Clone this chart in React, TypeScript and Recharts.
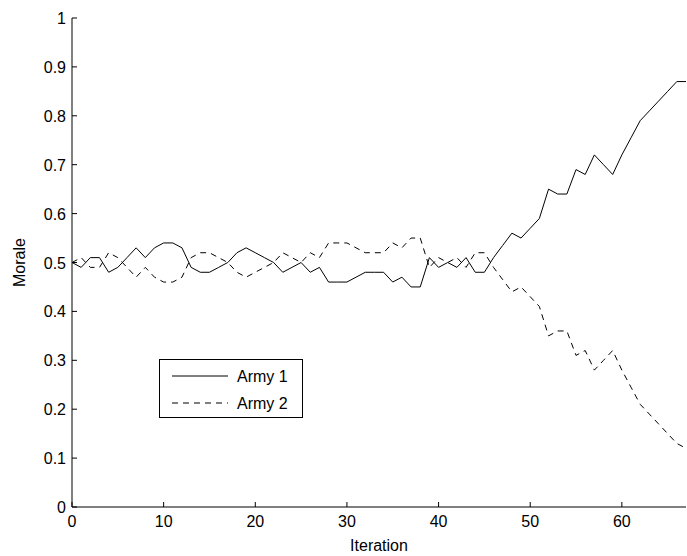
import React from 'react';
import { LineChart, Line, XAxis, YAxis, Legend } from 'recharts';

const iterations: number[] = [
  0, 1, 2, 3, 4, 5, 6, 7, 8, 9, 10, 11, 12, 13, 14, 15, 16, 17, 18, 19,
  20, 21, 22, 23, 24, 25, 26, 27, 28, 29, 30, 31, 32, 33, 34, 35, 36, 37, 38, 39,
  40, 41, 42, 43, 44, 45, 46, 47, 48, 49, 50, 51, 52, 53, 54, 55, 56, 57, 58, 59,
  60, 61, 62, 63, 64, 65, 66, 67,
];

const army1: number[] = [
  0.50, 0.49, 0.51, 0.51, 0.48, 0.49, 0.51, 0.53, 0.51, 0.53,
  0.54, 0.54, 0.53, 0.49, 0.48, 0.48, 0.49, 0.50, 0.52, 0.53,
  0.52, 0.51, 0.50, 0.48, 0.49, 0.50, 0.48, 0.49, 0.46, 0.46,
  0.46, 0.47, 0.48, 0.48, 0.48, 0.46, 0.47, 0.45, 0.45, 0.51,
  0.49, 0.50, 0.49, 0.51, 0.48, 0.48, 0.51, 0.535, 0.56, 0.55,
  0.57, 0.59, 0.65, 0.64, 0.64, 0.69, 0.68, 0.72, 0.70, 0.68,
  0.72, 0.755, 0.79, 0.81, 0.83, 0.85, 0.87, 0.87,
];

const army2: number[] = [
  0.50, 0.51, 0.49, 0.49, 0.52, 0.51, 0.49, 0.47, 0.49, 0.47,
  0.46, 0.46, 0.47, 0.51, 0.52, 0.52, 0.51, 0.50, 0.48, 0.47,
  0.48, 0.49, 0.50, 0.52, 0.51, 0.50, 0.52, 0.51, 0.54, 0.54,
  0.54, 0.53, 0.52, 0.52, 0.52, 0.54, 0.53, 0.55, 0.55, 0.49,
  0.51, 0.50, 0.51, 0.49, 0.52, 0.52, 0.49, 0.465, 0.44, 0.45,
  0.43, 0.41, 0.35, 0.36, 0.36, 0.31, 0.32, 0.28, 0.30, 0.32,
  0.28, 0.245, 0.21, 0.19, 0.17, 0.15, 0.13, 0.12,
];

const xTicks: number[] = [0, 10, 20, 30, 40, 50, 60];
const yTicks: number[] = [0, 0.1, 0.2, 0.3, 0.4, 0.5, 0.6, 0.7, 0.8, 0.9, 1];
const seriesNames: string[] = ['Army 1', 'Army 2'];

const data = iterations.map((it, i) => ({ it, a1: army1[i], a2: army2[i] }));

const FONT = '"Liberation Sans", Arial, Helvetica, sans-serif';
const FS = 16;
const TICK = 5;
const DASH = '6 5';

const BottomTick = (props: any) => {
  const { x, y, payload } = props;
  return (
    <g>
      <line x1={x} y1={y} x2={x} y2={y - TICK} stroke="#000" strokeWidth={1} />
      <text x={x} y={y + 20} textAnchor="middle" fontFamily={FONT} fontSize={FS} fill="#000">
        {String(payload.value)}
      </text>
    </g>
  );
};

const TopTick = (props: any) => {
  const { x, y } = props;
  return <line x1={x} y1={y} x2={x} y2={y + TICK} stroke="#000" strokeWidth={1} />;
};

const LeftTick = (props: any) => {
  const { x, y, payload } = props;
  return (
    <g>
      <line x1={x} y1={y} x2={x + TICK} y2={y} stroke="#000" strokeWidth={1} />
      <text x={x - 6} y={y + 6} textAnchor="end" fontFamily={FONT} fontSize={FS} fill="#000">
        {String(payload.value)}
      </text>
    </g>
  );
};

const RightTick = (props: any) => {
  const { x, y } = props;
  return <line x1={x} y1={y} x2={x - TICK} y2={y} stroke="#000" strokeWidth={1} />;
};

const XLabel = (props: any) => {
  const vb = props.viewBox || {};
  return (
    <text x={vb.x + vb.width / 2} y={vb.y + 44} textAnchor="middle" fontFamily={FONT} fontSize={FS} fill="#000">
      Iteration
    </text>
  );
};

const YLabel = (props: any) => {
  const vb = props.viewBox || {};
  const cx = vb.x + 19;
  const cy = vb.y + vb.height / 2;
  return (
    <text
      x={cx}
      y={cy}
      transform={`rotate(-90, ${cx}, ${cy})`}
      textAnchor="middle"
      dominantBaseline="central"
      fontFamily={FONT}
      fontSize={FS}
      fill="#000"
    >
      Morale
    </text>
  );
};

const LegendBox = (props: any) => {
  const payload = props.payload || [];
  return (
    <div
      style={{
        width: 144,
        height: 59,
        boxSizing: 'border-box',
        border: '1px solid #000',
        background: '#fff',
        position: 'relative',
      }}
    >
      <svg width={142} height={57} style={{ display: 'block' }}>
        {payload.map((p: any, i: number) => {
          const yy = 16 + i * 27;
          return (
            <g key={p.value}>
              <line
                x1={12}
                y1={yy}
                x2={68}
                y2={yy}
                stroke="#000"
                strokeWidth={1}
                strokeDasharray={p.payload && p.payload.strokeDasharray ? DASH : undefined}
              />
              <text x={77} y={yy + 6} fontFamily={FONT} fontSize={FS} fill="#000">
                {p.value}
              </text>
            </g>
          );
        })}
      </svg>
    </div>
  );
};

export default function App() {
  return (
    <div style={{ position: 'absolute', left: 0, top: 0, width: 687, height: 556, background: '#fff' }}>
      <LineChart
        width={687}
        height={556}
        data={data}
        margin={{ top: 18, right: 1, bottom: 0, left: 0 }}
      >
        <XAxis
          dataKey="it"
          type="number"
          domain={[0, 67]}
          ticks={xTicks}
          interval={0}
          allowDataOverflow
          height={49}
          tickSize={0}
          tickMargin={0}
          tickLine={false}
          axisLine={{ stroke: '#000', strokeWidth: 1 }}
          tick={<BottomTick />}
          label={<XLabel />}
        />
        <XAxis
          xAxisId="top"
          orientation="top"
          dataKey="it"
          type="number"
          domain={[0, 67]}
          ticks={xTicks}
          interval={0}
          allowDataOverflow
          height={0}
          tickSize={0}
          tickMargin={0}
          tickLine={false}
          axisLine={{ stroke: '#000', strokeWidth: 1 }}
          tick={<TopTick />}
        />
        <YAxis
          type="number"
          domain={[0, 1]}
          ticks={yTicks}
          interval={0}
          allowDataOverflow
          width={72}
          tickSize={0}
          tickMargin={0}
          tickLine={false}
          axisLine={{ stroke: '#000', strokeWidth: 1 }}
          tick={<LeftTick />}
          label={<YLabel />}
        />
        <YAxis
          yAxisId="right"
          orientation="right"
          type="number"
          domain={[0, 1]}
          ticks={yTicks}
          interval={0}
          allowDataOverflow
          width={0}
          tickSize={0}
          tickMargin={0}
          tickLine={false}
          axisLine={{ stroke: '#000', strokeWidth: 1 }}
          tick={<RightTick />}
        />
        <Legend
          layout="horizontal"
          verticalAlign="middle"
          align="center"
          content={<LegendBox />}
          wrapperStyle={{ position: 'absolute', left: 159, top: 359, width: 144, height: 59 }}
        />
        <Line
          name={seriesNames[0]}
          dataKey="a1"
          type="linear"
          stroke="#000"
          strokeWidth={1}
          dot={false}
          activeDot={false}
          isAnimationActive={false}
        />
        <Line
          name={seriesNames[1]}
          dataKey="a2"
          type="linear"
          stroke="#000"
          strokeWidth={1}
          strokeDasharray={DASH}
          dot={false}
          activeDot={false}
          isAnimationActive={false}
        />
      </LineChart>
    </div>
  );
}
